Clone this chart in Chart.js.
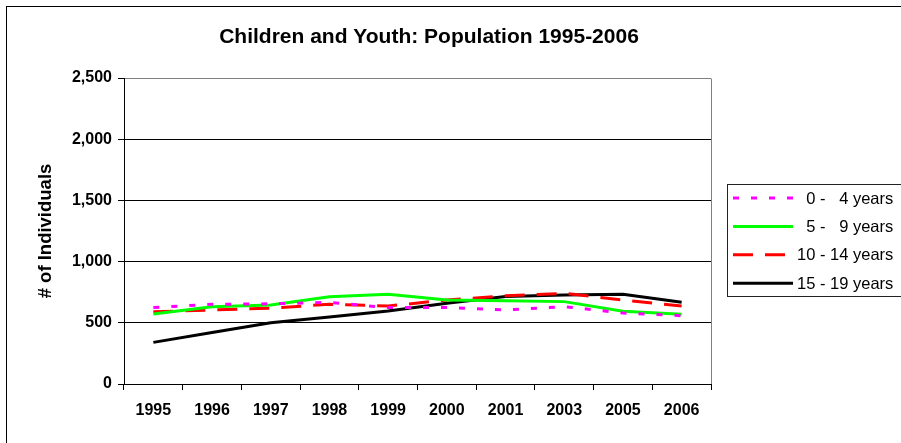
<!DOCTYPE html>
<html>
<head>
<meta charset="utf-8">
<script src="https://cdn.jsdelivr.net/npm/chart.js@4.4.0/dist/chart.umd.min.js"></script>
<style>
  html, body { margin: 0; padding: 0; background: #ffffff; }
  #wrap { width: 901px; height: 443px; }
</style>
</head>
<body>
<div id="wrap"><canvas id="c" width="901" height="443"></canvas></div>
<script>
// Population by age group, 1995-2006
const years = ['1995', '1996', '1997', '1998', '1999', '2000', '2001', '2003', '2005', '2006'];
const age0to4   = [624, 651, 655, 667, 624, 624, 605, 632, 580, 558];
const age5to9   = [572, 632, 645, 713, 733, 686, 681, 673, 595, 569];
const age10to14 = [590, 605, 620, 651, 637, 686, 720, 741, 686, 637];
const age15to19 = [340, 421, 500, 548, 596, 659, 715, 727, 733, 667];
const seriesLabels = ['  0 -   4 years', '  5 -   9 years', '10 - 14 years', '15 - 19 years'];
const yTicks = [0, 500, 1000, 1500, 2000, 2500];
const chartTitle = 'Children and Youth: Population 1995-2006';
const yTitle = '# of Individuals';

const FONT = "Arial, 'Liberation Sans', sans-serif";

// Frame, headings, plot border and the boxed legend
const decorations = {
  id: 'decorations',
  afterDraw(chart) {
    const ctx = chart.ctx;
    const area = chart.chartArea;
    ctx.save();

    // outer frame (runs past the canvas on the right and bottom)
    ctx.strokeStyle = '#000';
    ctx.lineWidth = 1;
    ctx.strokeRect(6.5, 6.5, 910, 450);

    // plot area right edge
    ctx.strokeStyle = '#808080';
    ctx.beginPath();
    ctx.moveTo(Math.round(area.right) + 0.5, Math.round(area.top) + 0.5);
    ctx.lineTo(Math.round(area.right) + 0.5, Math.round(area.bottom));
    ctx.stroke();

    // title
    ctx.fillStyle = '#000';
    ctx.font = 'bold 21px ' + FONT;
    ctx.textAlign = 'center';
    ctx.textBaseline = 'middle';
    ctx.fillText(chartTitle, 429, 37);

    // y axis title
    ctx.save();
    ctx.translate(46, (area.top + area.bottom) / 2);
    ctx.rotate(-Math.PI / 2);
    ctx.font = 'bold 18.5px ' + FONT;
    ctx.fillText(yTitle, 0, 0);
    ctx.restore();

    // legend
    const lx = 727.5, ly = 184.5;
    ctx.strokeStyle = '#222';
    ctx.lineWidth = 1;
    ctx.strokeRect(lx, ly, 200, 112);
    ctx.font = '16.5px ' + FONT;
    ctx.textAlign = 'left';
    ctx.textBaseline = 'middle';
    chart.data.datasets.forEach((ds, i) => {
      const y = 198 + i * 28.4;
      ctx.save();
      ctx.strokeStyle = ds.borderColor;
      ctx.lineWidth = ds.borderWidth;
      ctx.setLineDash(ds.borderDash || []);
      ctx.lineCap = 'butt';
      ctx.beginPath();
      ctx.moveTo(733, y);
      ctx.lineTo(793, y);
      ctx.stroke();
      ctx.restore();
      ctx.fillStyle = '#000';
      ctx.fillText(ds.label, 797, y + 1);
    });

    ctx.restore();
  }
};

new Chart(document.getElementById('c'), {
  type: 'line',
  data: {
    labels: years,
    datasets: [
      { label: seriesLabels[0], data: age0to4, borderColor: '#ff00ff', borderWidth: 3, borderDash: [6, 12] },
      { label: seriesLabels[1], data: age5to9, borderColor: '#00ff00', borderWidth: 3 },
      { label: seriesLabels[2], data: age10to14, borderColor: '#ff0000', borderWidth: 3, borderDash: [20, 12] },
      { label: seriesLabels[3], data: age15to19, borderColor: '#000000', borderWidth: 3 }
    ].map(d => Object.assign({ pointRadius: 0, pointHoverRadius: 0, tension: 0, fill: false }, d))
  },
  options: {
    responsive: false,
    animation: false,
    devicePixelRatio: 1,
    layout: { padding: { left: 0, top: 78, right: 190, bottom: 0 } },
    plugins: {
      legend: { display: false },
      title: { display: false },
      tooltip: { enabled: false }
    },
    scales: {
      x: {
        offset: true,
        grid: { offset: true, drawOnChartArea: false, drawTicks: true, tickLength: 6, color: '#000', lineWidth: 1 },
        border: { color: '#000', width: 1 },
        ticks: { color: '#000', font: { family: FONT, size: 16, weight: 'bold' }, padding: 11, maxRotation: 0, autoSkip: false },
        afterFit: s => { s.height = 59; }
      },
      y: {
        min: yTicks[0],
        max: yTicks[yTicks.length - 1],
        afterBuildTicks: s => { s.ticks = yTicks.map(v => ({ value: v })); },
        grid: {
          color: c => (c.tick && c.tick.value === yTicks[yTicks.length - 1]) ? '#808080' : '#000',
          tickColor: '#000',
          tickLength: 6,
          lineWidth: 1
        },
        border: { color: '#000', width: 1 },
        ticks: {
          color: '#000',
          font: { family: FONT, size: 16, weight: 'bold' },
          padding: 6,
          callback: v => Number(v).toLocaleString('en-US')
        },
        afterFit: s => { s.width = 124; }
      }
    }
  },
  plugins: [decorations]
});
</script>
</body>
</html>
